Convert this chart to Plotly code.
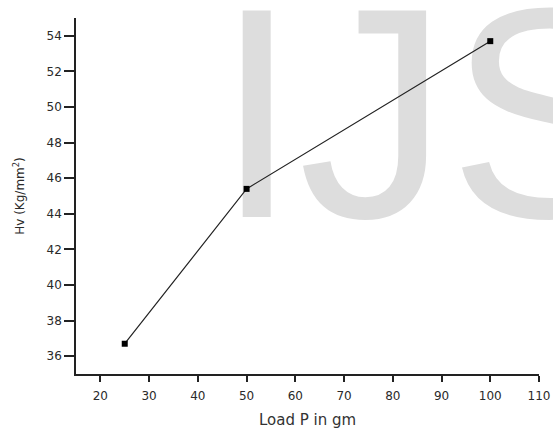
import plotly.graph_objects as go

# Data
load_gm = [25, 50, 100]
hardness_hv = [36.7, 45.4, 53.7]
x_ticks = [20, 30, 40, 50, 60, 70, 80, 90, 100, 110]
y_ticks = [36, 38, 40, 42, 44, 46, 48, 50, 52, 54]

fig = go.Figure()

fig.add_trace(go.Scatter(
    x=load_gm, y=hardness_hv, mode="lines+markers",
    line=dict(color="#222222", width=1.2),
    marker=dict(symbol="square", size=6, color="black"),
    showlegend=False, cliponaxis=False,
))

# Watermark behind data
fig.add_shape(
    type="rect", xref="paper", yref="paper",
    x0=0.2938, x1=1.3, y0=0.340, y1=1.3,
    line=dict(width=0), fillcolor="rgba(0,0,0,0)", layer="below",
    label=dict(text="IJS", textposition="bottom left", padding=0,
               font=dict(family="Arial", size=300, color="#dddddd", weight=400)),
)

tick_font = dict(family="DejaVu Sans", size=12, color="#2a2a2a")

fig.update_layout(
    width=553, height=429,
    margin=dict(l=76, r=14, t=18, b=55, autoexpand=False),
    paper_bgcolor="white", plot_bgcolor="white",
    xaxis=dict(
        range=[15, 110], tickvals=x_ticks, ticktext=[str(v) for v in x_ticks],
        showgrid=False, zeroline=False, showline=True, linecolor="#222222", linewidth=1.5,
        ticks="outside", ticklen=6, tickwidth=1.5, tickcolor="#222222",
        tickfont=tick_font, ticklabelstandoff=4, automargin=False,
        title=dict(text="Load P in gm", font=dict(family="DejaVu Sans", size=15, color="#333333"), standoff=17),
    ),
    yaxis=dict(
        range=[35, 55], tickvals=y_ticks, ticktext=[str(v) for v in y_ticks],
        showgrid=False, zeroline=False, showline=True, linecolor="#222222", linewidth=1.5,
        ticks="outside", ticklen=10, tickwidth=1.5, tickcolor="#222222",
        tickfont=tick_font, ticklabelstandoff=0, automargin=False,
        title=dict(text="Hv (Kg/mm<sup>2</sup>)", font=dict(family="DejaVu Sans", size=12, color="#2a2a2a"), standoff=19),
    ),
)

fig.write_html("out.html", config={"displayModeBar": False},
               post_script="document.body.style.margin='0';document.body.style.padding='0';")
